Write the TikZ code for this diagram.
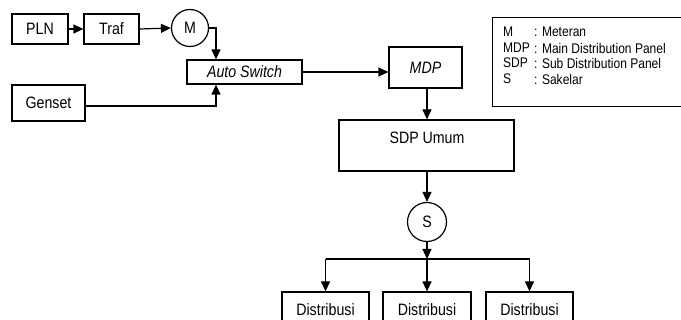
\documentclass[tikz,border=0pt]{standalone}
\usepackage{fontspec}
\setmainfont{Liberation Sans}[FakeStretch=0.86]
\usetikzlibrary{arrows.meta}
\begin{document}
\begin{tikzpicture}[x=1pt,y=-1pt,
  box/.style={draw, line width=1.2pt, rectangle, inner sep=0pt, font=\fontsize{16.5}{18}\selectfont},
  circ/.style={draw, line width=1.2pt, circle, inner sep=0pt, font=\fontsize{16.5}{18}\selectfont},
  txt/.style={inner sep=0pt, font=\fontsize{16.5}{18}\selectfont},
  leg/.style={inner sep=0pt, anchor=west, font=\fontsize{14}{16}\selectfont},
  conn/.style={line width=1.2pt, -{Triangle[length=10pt,width=9pt]}},
  plain/.style={line width=1.2pt}]
\useasboundingbox (0,0) rectangle (681,320);
\clip (0,0) rectangle (681,320);
% boxes
\node[box, minimum width=56pt, minimum height=30pt] (pln) at (40,29) {PLN};
\node[box, minimum width=55pt, minimum height=30pt] (traf) at (111.5,29) {Traf};
\node[circ, minimum size=37pt] (m) at (190,28) {M};
\node[box, minimum width=115pt, minimum height=24pt] (auto) at (244.5,72) {\itshape Auto Switch};
\node[box, minimum width=73pt, minimum height=36pt] (genset) at (48.5,103) {Genset};
\node[box, minimum width=73pt, minimum height=41pt] (mdp) at (425.5,67.5) {\itshape MDP};
\node[box, minimum width=175pt, minimum height=51pt] (sdp) at (426.5,145.5) {};
\node[txt] (sdplbl) at (427,138) {SDP Umum};
\node[circ, minimum size=39pt] (s) at (427,222) {S};
\coordinate (j) at (427,259);
\coordinate (col) at (216,0);
\coordinate (gy) at (0,106);
\node[box, minimum width=87pt, minimum height=36pt] (d1) at (325.5,310) {Distribusi};
\node[box, minimum width=88pt, minimum height=36pt] (d2) at (427,310) {Distribusi};
\node[box, minimum width=87pt, minimum height=36pt] (d3) at (529.5,310) {Distribusi};
% legend
\node[draw, line width=1.2pt, minimum width=200pt, minimum height=89pt, anchor=north west, inner sep=0pt] (legend) at (492,17) {};
\node[leg] (l1a) at (503,32) {M};
\node[leg] (l1b) at (534,32) {: Meteran};
\node[leg] (l2a) at (503,48) {MDP};
\node[leg] (l2b) at (534,48) {: Main Distribution Panel};
\node[leg] (l3a) at (503,63) {SDP};
\node[leg] (l3b) at (534,63) {: Sub Distribution Panel};
\node[leg] (l4a) at (503,79) {S};
\node[leg] (l4b) at (534,79) {: Sakelar};
% connectors
\draw[conn] (pln.east) -- (traf.west);
\draw[conn] (traf.east) -- (m.west);
\draw[conn] (m.east) -- (m.east -| col) -- (auto.north -| col);
\draw[conn] (genset.east |- gy) -- (gy -| col) -- (auto.south -| col);
\draw[conn] (auto.east) -- (auto.east -| mdp.west);
\draw[conn] (mdp.south -| s.north) -- (sdp.north -| s.north);
\draw[conn] (sdp.south -| s.south) -- (s.north);
\draw[conn] (s.south) -- (j);
\draw[plain] (d1.north |- j) -- (d3.north |- j);
\draw[conn] (d1.north |- j) -- (d1.north);
\draw[conn] (j) -- (d2.north);
\draw[conn] (d3.north |- j) -- (d3.north);
\end{tikzpicture}
\end{document}
